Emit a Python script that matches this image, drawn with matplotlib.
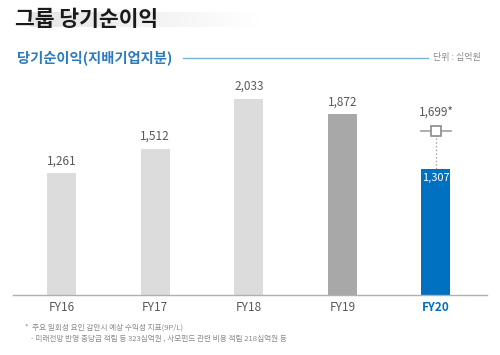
import matplotlib
import matplotlib.pyplot as plt
import numpy as np

matplotlib.use("Agg")

plt.rcParams["font.family"] = ["Noto Sans CJK KR", "DejaVu Sans"]

# data
years = ["FY16", "FY17", "FY18", "FY19", "FY20"]
profit = [1261, 1512, 2033, 1872, 1307]
adjusted_fy20 = 1699
bar_colors = ["#dcdcdc", "#dcdcdc", "#dcdcdc", "#a8a8a8", "#0070c0"]

fig = plt.figure(figsize=(5, 3.55), dpi=100)

# soft gray band behind the title (fades out to the right)
band = fig.add_axes([0.06, 0.925, 0.46, 0.04])
shade = np.linspace(0.90, 1.0, 200)
band.imshow(np.dstack([shade, shade, shade]).reshape(1, -1, 3), aspect="auto",
            extent=(0, 1, 0, 1))
band.set_axis_off()

fig.text(0.03, 0.945, "그룹 당기순이익", fontsize=15.5, fontweight="bold", color="#1a1a1a",
         va="center", ha="left")
fig.text(0.034, 0.837, "당기순이익(지배기업지분)", fontsize=10.3, fontweight="bold", color="#2b7bbf",
         va="center", ha="left")
fig.add_artist(plt.Line2D([0.366, 0.856], [0.837, 0.837], color="#7fb3d5", lw=1))
fig.text(0.866, 0.837, "단위 : 십억원", fontsize=6.5, color="#8a8a8a", va="center", ha="left")

ax = fig.add_axes([0.026, 0.169, 0.948, 0.606])
x = np.arange(len(years))
bars = ax.bar(x, profit, width=0.31, color=bar_colors, zorder=2)

for i, (b, v) in enumerate(zip(bars, profit)):
    if i == len(profit) - 1:
        ax.text(b.get_x() + b.get_width() / 2, v - 40, f"{v:,}", ha="center", va="top",
                fontsize=8, color="white")
    else:
        ax.text(b.get_x() + b.get_width() / 2, v + 60, f"{v:,}", ha="center", va="bottom",
                fontsize=8.5, color="#595959")

# adjusted FY20 indicator
ax.plot([x[-1], x[-1]], [profit[-1], adjusted_fy20], color="#a0a0a0", lw=1, ls=":", zorder=1)
ax.plot([x[-1] - 0.16, x[-1] + 0.16], [adjusted_fy20, adjusted_fy20], color="#a0a0a0", lw=1.2,
        zorder=3)
ax.plot(x[-1], adjusted_fy20, marker="s", ms=7, mfc="white", mec="#8a8a8a", mew=1.2, zorder=4)
ax.text(x[-1], adjusted_fy20 + 130, f"{adjusted_fy20:,}*", ha="center", va="bottom",
        fontsize=8.5, color="#595959")

ax.set_xlim(-0.518, 4.545)
ax.set_ylim(0, 2226)
ax.set_xticks(x)
ax.set_xticklabels(years, fontsize=8.5, color="#595959")
ax.get_xticklabels()[-1].set_color("#0070c0")
ax.get_xticklabels()[-1].set_fontweight("bold")
ax.tick_params(axis="x", length=0, pad=4)
ax.set_yticks([])
for side in ["top", "right", "left"]:
    ax.spines[side].set_visible(False)
ax.spines["bottom"].set_color("#b0b0b0")
ax.spines["bottom"].set_linewidth(1)

fig.text(0.05, 0.078, "*  주요 일회성 요인 감안시 예상 수익성 지표(9P/L)", fontsize=5.5,
         color="#8a8a8a", va="center", ha="left")
fig.text(0.062, 0.045, "- 미래전망 반영 충당금 적립 등 323십억원 , 사모펀드 관련 비용 적립 218십억원 등",
         fontsize=5.5, color="#8a8a8a", va="center", ha="left")

fig.savefig("out.png", dpi=100)
